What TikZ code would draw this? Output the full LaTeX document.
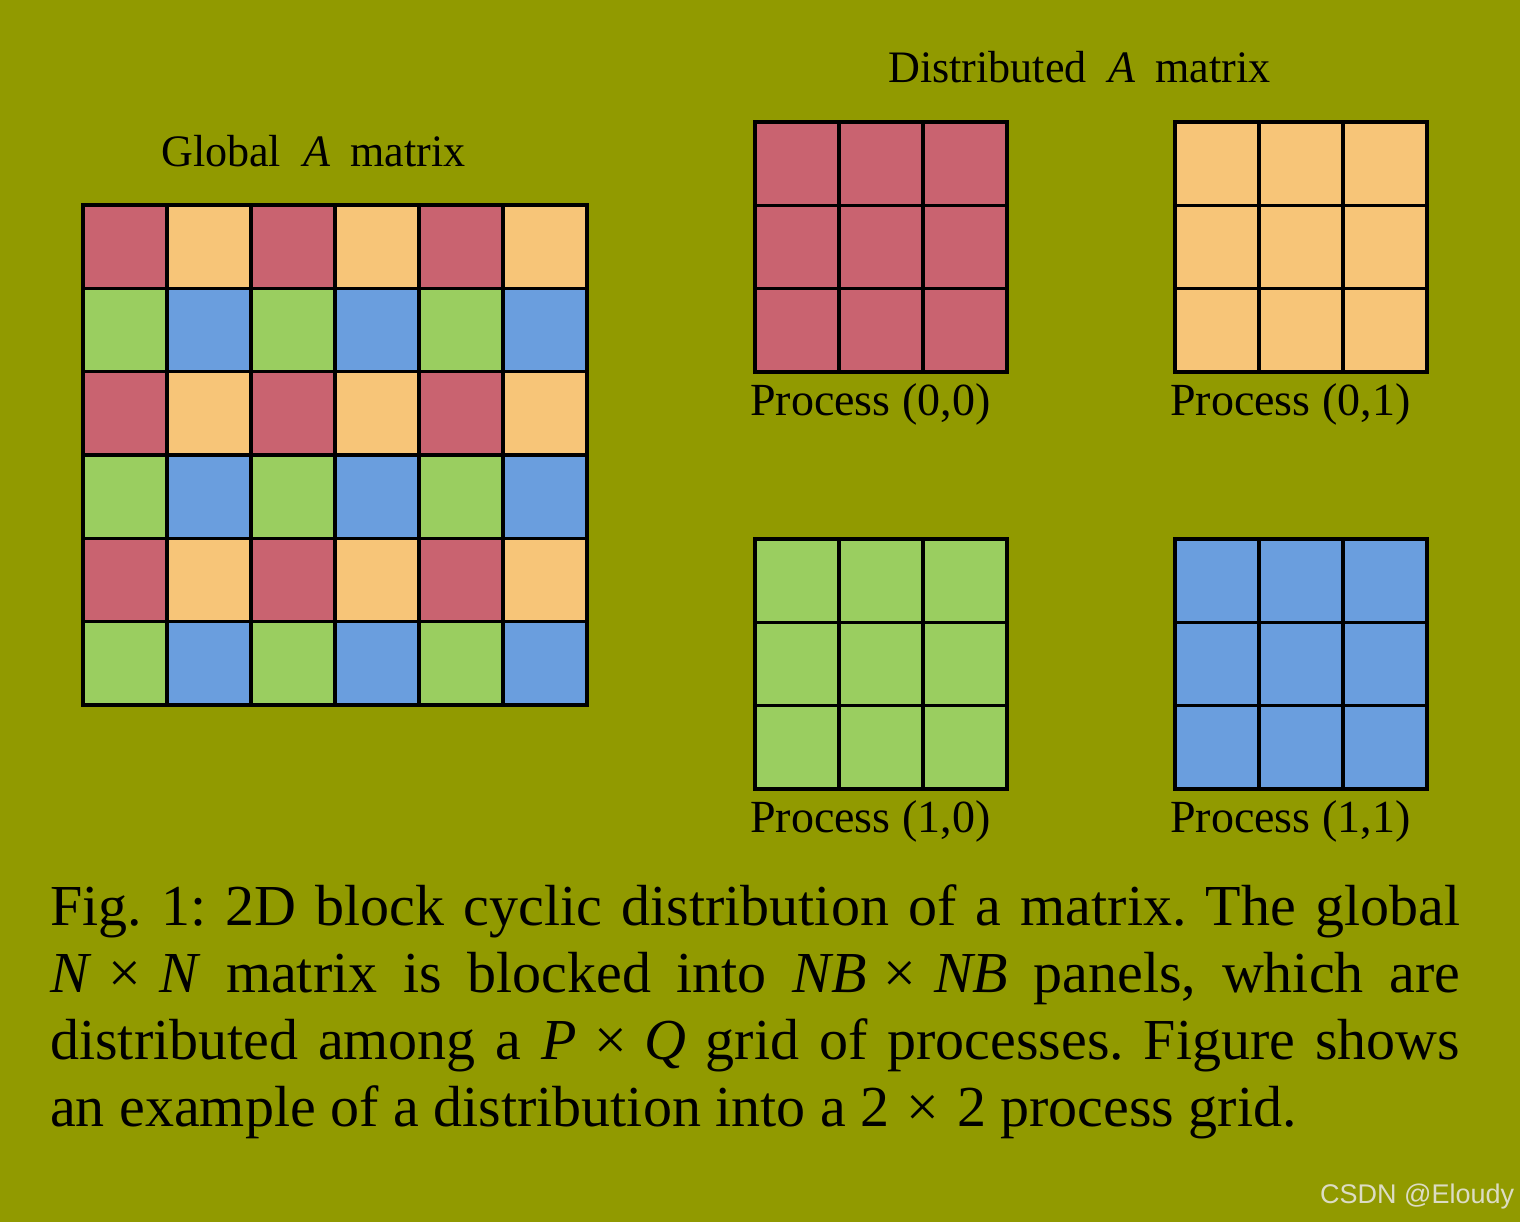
\documentclass[tikz,border=0pt]{standalone}
\usepackage{fontspec}
\setmainfont{Liberation Serif}
\newfontfamily\wmfont{Liberation Sans}
\definecolor{bg}{HTML}{919A00}
\definecolor{cr}{HTML}{C96370}
\definecolor{co}{HTML}{F7C578}
\definecolor{cg}{HTML}{9ACE60}
\definecolor{cb}{HTML}{6A9EDE}
\definecolor{wm}{HTML}{DCDCC4}
\newcommand\mytimes{\hspace{0.3em}×\hspace{0.3em}}
\newcommand\mytitle[2]{\scalebox{0.98}[1]{#1\hspace{0.5em}\textit{A}\hspace{0.45em}#2}}
\newcommand\procgrid[3]{%
  \fill[#3] (#1,#2) rectangle ++(252,250);
  \draw[gl] (#1+84,#2) -- ++(0,250);
  \draw[gl] (#1+168,#2) -- ++(0,250);
  \draw[gl] (#1,#2+250/3) -- ++(252,0);
  \draw[gl] (#1,#2+500/3) -- ++(252,0);
  \draw[gl] (#1,#2) rectangle ++(252,250);
}
\begin{document}
\frenchspacing
\begin{tikzpicture}[x=1pt,y=-1pt,
  gl/.style={line width=3.5pt, draw=black, line join=miter},
  lab/.style={inner sep=0pt, anchor=base west, font=\fontsize{46}{55}\selectfont},
  ttl/.style={inner sep=0pt, anchor=base west, font=\fontsize{45}{54}\selectfont},
  captext/.style={inner sep=0pt, anchor=base west, font=\fontsize{58}{67}\selectfont}]
\fill[bg] (0,0) rectangle (1520,1222);
\useasboundingbox (0,0) rectangle (1520,1222);
% global matrix
\foreach \r in {0,...,5} {
  \foreach \c in {0,...,5} {
    \pgfmathtruncatemacro\k{mod(\r,2)*2+mod(\c,2)}
    \ifcase\k \def\col{cr}\or\def\col{co}\or\def\col{cg}\or\def\col{cb}\fi
    \fill[\col] (83+84*\c,205+500/6*\r) rectangle ++(84,500/6);
  }
}
\foreach \i in {1,...,5} {
  \draw[gl] (83+84*\i,205) -- ++(0,500);
  \draw[gl] (83,205+500/6*\i) -- ++(504,0);
}
\draw[gl] (83,205) rectangle (587,705);
% process grids
\procgrid{755}{122}{cr}
\procgrid{1175}{122}{co}
\procgrid{755}{539}{cg}
\procgrid{1175}{539}{cb}
% labels
\node[ttl] (tg) at (161,167) {\mytitle{Global}{matrix}};
\node[ttl] (td) at (888,83) {\mytitle{Distributed}{matrix}};
\node[lab] (p00) at (750,415) {Process (0,0)};
\node[lab] (p01) at (1170,415) {Process (0,1)};
\node[lab] (p10) at (750,832) {Process (1,0)};
\node[lab] (p11) at (1170,832) {Process (1,1)};
% caption
\node[captext] (c1) at (50,925) {\makebox[1410pt][s]{Fig. 1: 2D block cyclic distribution of a matrix. The global}};
\node[captext] (c2) at (50,992) {\makebox[1410pt][s]{\textit{N}\mytimes\textit{N} matrix is blocked into \textit{NB}\mytimes\textit{NB} panels, which are}};
\node[captext] (c3) at (50,1059) {\makebox[1410pt][s]{distributed among a \textit{P}\mytimes\textit{Q} grid of processes. Figure shows}};
\node[captext] (c4) at (50,1126) {an example of a distribution into a 2\mytimes2 process grid.};
\node[inner sep=0pt, anchor=base west, text=wm, font=\wmfont\fontsize{27}{30}\selectfont] (wm) at (1320,1203) {CSDN @Eloudy};
\end{tikzpicture}
\end{document}
